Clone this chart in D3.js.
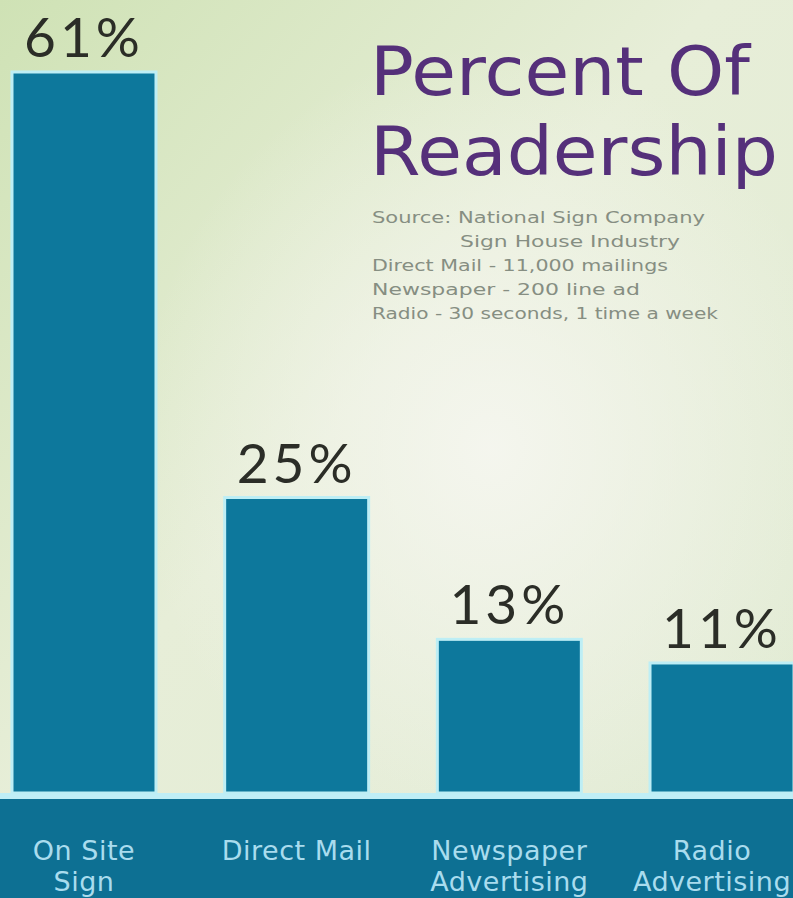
<!DOCTYPE html>
<html>
<head>
<meta charset="utf-8">
<script src="https://cdn.jsdelivr.net/npm/d3@7"></script>
<style>
  html, body { margin: 0; padding: 0; background: #e8efdc; }
  svg { display: block; }
</style>
</head>
<body>
<div id="chart"></div>
<script>
// data
var categories = ["On Site Sign", "Direct Mail", "Newspaper Advertising", "Radio Advertising"];
var labelLines = [["On Site", "Sign"], ["Direct Mail"], ["Newspaper", "Advertising"], ["Radio", "Advertising"]];
var percents = [61, 25, 13, 11];
var titleLines = ["Percent Of", "Readership"];
var sourceLines = [
    "Source: National Sign Company",
    "Sign House Industry",
    "Direct Mail - 11,000 mailings",
    "Newspaper - 200 line ad",
    "Radio - 30 seconds, 1 time a week"
];

var width = 793, height = 898,
    baseline = 793;

var svg = d3.select("#chart")
    .append("svg")
    .attr("width", width)
    .attr("height", height);

// background
var defs = svg.append("defs");
var bg = defs.append("linearGradient")
    .attr("id", "bg")
    .attr("x1", "0").attr("y1", "0")
    .attr("x2", "1").attr("y2", "1");
bg.append("stop").attr("offset", "0%").attr("stop-color", "#cfe2b5");
bg.append("stop").attr("offset", "45%").attr("stop-color", "#e7eed8");
bg.append("stop").attr("offset", "100%").attr("stop-color", "#e1ebd4");

var glow = defs.append("radialGradient")
    .attr("id", "glow")
    .attr("cx", "0.62").attr("cy", "0.5").attr("r", "0.45");
glow.append("stop").attr("offset", "0%").attr("stop-color", "#f5f6ef").attr("stop-opacity", 0.95);
glow.append("stop").attr("offset", "100%").attr("stop-color", "#f5f6ef").attr("stop-opacity", 0);

svg.append("rect")
    .attr("width", width).attr("height", height)
    .attr("fill", "url(#bg)");
svg.append("rect")
    .attr("width", width).attr("height", height)
    .attr("fill", "url(#glow)");

// scales
var x = d3.scaleBand()
    .domain(categories)
    .range([12, 794])
    .paddingInner(0.323)
    .paddingOuter(0);

var y = d3.scaleLinear()
    .domain([0, 61])
    .range([baseline, 72]);

// bottom band
svg.append("rect")
    .attr("x", 0).attr("y", baseline)
    .attr("width", width).attr("height", 6)
    .attr("fill", "#bfeef6");
svg.append("rect")
    .attr("x", 0).attr("y", baseline + 6)
    .attr("width", width).attr("height", height - baseline - 6)
    .attr("fill", "#0d7093");

// bars
svg.selectAll(".bar")
    .data(percents)
    .enter()
    .append("rect")
    .attr("class", "bar")
    .attr("x", function (d, i) { return x(categories[i]); })
    .attr("y", function (d) { return y(d); })
    .attr("width", x.bandwidth())
    .attr("height", function (d) { return baseline - y(d); })
    .attr("fill", "#0d789c")
    .attr("stroke", "#bdeef5")
    .attr("stroke-width", 3);

// value labels
svg.selectAll(".value")
    .data(percents)
    .enter()
    .append("text")
    .attr("class", "value")
    .attr("x", function (d, i) { return x(categories[i]) + x.bandwidth() / 2; })
    .attr("y", function (d) { return y(d) - 15; })
    .attr("text-anchor", "middle")
    .attr("font-family", "Lato, 'DejaVu Sans', sans-serif")
    .style("font-size", "55px")
    .style("letter-spacing", "4px")
    .attr("fill", "#2b2d27")
    .text(function (d) { return d + "%"; });

// category labels
var cat = svg.selectAll(".cat")
    .data(labelLines)
    .enter()
    .append("text")
    .attr("class", "cat")
    .attr("text-anchor", "middle")
    .attr("font-family", "'DejaVu Sans', sans-serif")
    .style("font-size", "27px")
    .style("letter-spacing", "0.5px")
    .attr("fill", "#a9dcee")
    .attr("x", function (d, i) { return x(categories[i]) + x.bandwidth() / 2 - (i === 3 ? 10 : 0); })
    .attr("y", 860);

cat.selectAll("tspan")
    .data(function (d) { return d; })
    .enter()
    .append("tspan")
    .attr("x", function () { return d3.select(this.parentNode).attr("x"); })
    .attr("dy", function (d, i) { return i === 0 ? 0 : 31; })
    .text(function (d) { return d; });

// title
var titleWidths = [380, 408];
svg.append("text")
    .attr("font-family", "'DejaVu Sans', sans-serif")
    .style("font-size", "68px")
    .attr("fill", "#55307a")
    .selectAll("tspan")
    .data(titleLines)
    .enter()
    .append("tspan")
    .attr("x", 370)
    .attr("y", function (d, i) { return 95 + i * 80; })
    .attr("textLength", function (d, i) { return titleWidths[i]; })
    .attr("lengthAdjust", "spacingAndGlyphs")
    .text(function (d) { return d; });

// source note
var sourceX = [372, 460, 372, 372, 372];
var sourceWidths = [333, 220, 296, 268, 346];
svg.append("text")
    .attr("font-family", "'DejaVu Sans', sans-serif")
    .style("font-size", "15px")
    .attr("fill", "#868e82")
    .selectAll("tspan")
    .data(sourceLines)
    .enter()
    .append("tspan")
    .attr("x", function (d, i) { return sourceX[i]; })
    .attr("y", function (d, i) { return 223 + i * 24; })
    .attr("textLength", function (d, i) { return sourceWidths[i]; })
    .attr("lengthAdjust", "spacingAndGlyphs")
    .text(function (d) { return d; });
</script>
</body>
</html>
